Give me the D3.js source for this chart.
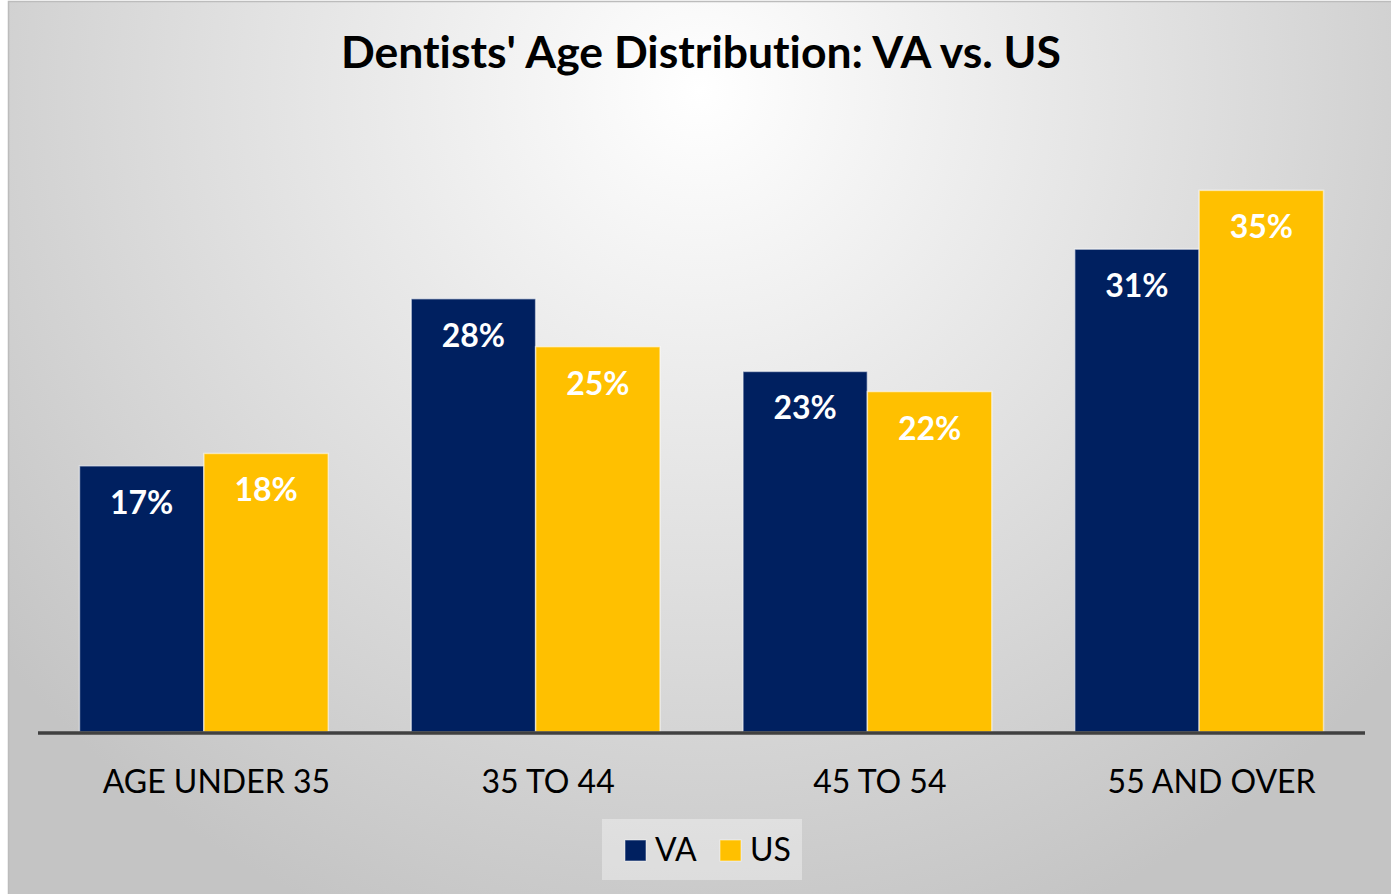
<!DOCTYPE html>
<html>
<head>
<meta charset="utf-8">
<script src="https://cdn.jsdelivr.net/npm/d3@7"></script>
<style>
  html, body { margin: 0; padding: 0; background: #fff; }
  svg { display: block; font-family: Lato, "Open Sans", sans-serif; font-variant-ligatures: none; }
</style>
</head>
<body>
<div id="chart"></div>
<script>
var categories = ["AGE UNDER 35", "35 TO 44", "45 TO 54", "55 AND OVER"];
var seriesNames = ["VA", "US"];
var vaValues = [17.2, 28.0, 23.3, 31.2];
var usValues = [18.0, 24.9, 22.0, 35.0];
var colors = ["#002060", "#FFC000"];
var titleText = "Dentists' Age Distribution: VA vs. US";

var w = 1391, h = 894;

var svg = d3.select("#chart").append("svg")
  .attr("width", w)
  .attr("height", h);

// background gradient like the office chart area
var defs = svg.append("defs");
var grad = defs.append("radialGradient")
  .attr("id", "bg")
  .attr("gradientUnits", "userSpaceOnUse")
  .attr("cx", 700).attr("cy", 90)
  .attr("r", 900);
grad.append("stop").attr("offset", "0%").attr("stop-color", "#ffffff");
grad.append("stop").attr("offset", "100%").attr("stop-color", "#c4c4c4");

svg.append("rect")
  .attr("x", 8.5).attr("y", 1.5)
  .attr("width", 1400).attr("height", 900)
  .style("fill", "url(#bg)")
  .style("stroke", "#bcbcbc")
  .style("stroke-width", 1.5);

// title
svg.append("text")
  .attr("x", 701)
  .attr("y", 68)
  .attr("text-anchor", "middle")
  .style("font-weight", "bold")
  .style("font-size", "44.5px")
  .style("fill", "#000")
  .text(titleText);

var plot = { left: 38, right: 1365, top: 113, bottom: 732 };

var x0 = d3.scaleBand()
  .domain(categories)
  .range([plot.left, plot.right])
  .paddingInner(0.25)
  .paddingOuter(0.125);

var x1 = d3.scaleBand()
  .domain(seriesNames)
  .range([0, x0.bandwidth()]);

var y = d3.scaleLinear()
  .domain([0, 40])
  .range([plot.bottom, plot.top]);

var rows = categories.map(function(c, i) {
  return { cat: c, vals: [vaValues[i], usValues[i]] };
});

var groups = svg.append("g").selectAll("g")
  .data(rows)
  .join("g")
  .attr("transform", function(d) { return "translate(" + x0(d.cat) + ",0)"; });

var cells = groups.selectAll("g")
  .data(function(d) {
    return d.vals.map(function(v, j) { return { s: seriesNames[j], v: v, j: j }; });
  })
  .join("g");

cells.append("rect")
  .attr("x", function(d) { return x1(d.s); })
  .attr("y", function(d) { return y(d.v); })
  .attr("width", x1.bandwidth())
  .attr("height", function(d) { return y(0) - y(d.v); })
  .style("fill", function(d) { return colors[d.j]; })
  .style("stroke", "rgba(255,255,255,0.55)")
  .style("stroke-width", 1.5);

cells.append("text")
  .attr("x", function(d) { return x1(d.s) + x1.bandwidth() / 2; })
  .attr("y", function(d) { return y(d.v) + 48; })
  .attr("text-anchor", "middle")
  .style("font-weight", "bold")
  .style("font-size", "32px")
  .style("fill", "#fff")
  .text(function(d) { return Math.round(d.v) + "%"; });

// x axis
var xAxis = svg.append("g")
  .attr("transform", "translate(0," + (plot.bottom + 1) + ")")
  .call(d3.axisBottom(x0).tickSize(0).tickPadding(0));

xAxis.select(".domain")
  .attr("d", "M" + plot.left + ",0H" + plot.right)
  .style("stroke", "#404040")
  .style("stroke-width", 3.5);

xAxis.selectAll(".tick text")
  .attr("dx", 12.5)
  .attr("dy", 0)
  .attr("y", 60)
  .style("font-family", "Lato, 'Open Sans', sans-serif")
  .style("font-size", "32px")
  .style("fill", "#000");

// legend
var legend = svg.append("g");
legend.append("rect")
  .attr("x", 602).attr("y", 819)
  .attr("width", 200).attr("height", 61)
  .style("fill", "rgba(255,255,255,0.35)");

var legendX = [625, 720];
var items = legend.selectAll("g")
  .data(seriesNames)
  .join("g")
  .attr("transform", function(d, i) { return "translate(" + legendX[i] + ",840)"; });

items.append("rect")
  .attr("width", 21).attr("height", 21)
  .style("fill", function(d, i) { return colors[i]; })
  .style("stroke", "rgba(255,255,255,0.5)")
  .style("stroke-width", 1);

items.append("text")
  .attr("x", 30)
  .attr("y", 21)
  .style("font-size", "32px")
  .style("fill", "#000")
  .text(function(d) { return d; });
</script>
</body>
</html>
